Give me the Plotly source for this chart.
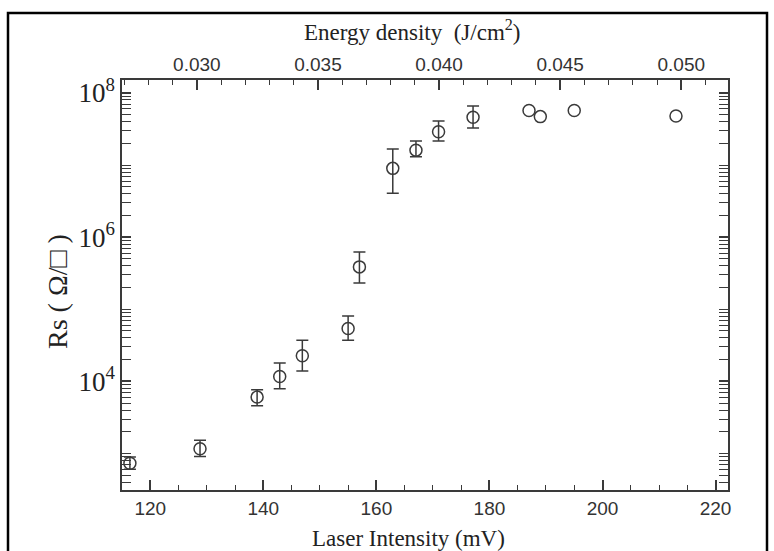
import plotly.graph_objects as go

# ---- data ----
laser_mv = [116.4, 128.8, 138.9, 142.9, 146.9, 155.0, 157.0, 162.9, 167.0, 171.0, 177.1, 187.0, 189.0, 195.0, 213.0]
rs = [733, 1160, 6050, 11700, 22700, 54000, 387000, 9.0e6, 1.61e7, 2.9e7, 4.6e7, 5.7e7, 4.7e7, 5.7e7, 4.8e7]
# error-bar ends (None = no visible error bar)
rs_upper = [890, 1520, 7670, 17950, 37100, 80700, 625000, 1.67e7, 2.15e7, 4.08e7, 6.6e7, None, None, None, None]
rs_lower = [605, 908, 4590, 7920, 13900, 37100, 231700, 4.05e6, 1.30e7, 2.15e7, 3.27e7, None, None, None, None]

x_ticks = [120, 140, 160, 180, 200, 220]
energy_ticks = [0.030, 0.035, 0.040, 0.045, 0.050]
energy_labels = ["0.030", "0.035", "0.040", "0.045", "0.050"]
y_tickvals = [1e4, 1e6, 1e8]
y_ticktext = ["10<sup>4</sup>", "10<sup>6</sup>", "10<sup>8</sup>"]

idx_err = [i for i, u in enumerate(rs_upper) if u is not None]
idx_noerr = [i for i, u in enumerate(rs_upper) if u is None]

AX = "#3a3a3a"
SERIF = "Liberation Serif, Times New Roman, serif"
NARROW = "Liberation Sans Narrow, Liberation Sans, Arial, sans-serif"

marker = dict(symbol="circle-open", size=12, color=AX, line=dict(width=1.5, color=AX))

fig = go.Figure()
fig.add_trace(go.Scatter(
    x=[laser_mv[i] for i in idx_err], y=[rs[i] for i in idx_err], mode="markers",
    marker=marker,
    error_y=dict(type="data", symmetric=False,
                 array=[rs_upper[i] - rs[i] for i in idx_err],
                 arrayminus=[rs[i] - rs_lower[i] for i in idx_err],
                 color=AX, thickness=1.5, width=6),
    showlegend=False, hoverinfo="x+y",
))
fig.add_trace(go.Scatter(
    x=[laser_mv[i] for i in idx_noerr], y=[rs[i] for i in idx_noerr], mode="markers",
    marker=marker, showlegend=False, hoverinfo="x+y",
))
# helper (invisible) trace to activate the top energy axis
fig.add_trace(go.Scatter(
    x=energy_ticks, y=[rs[0]] * len(energy_ticks), xaxis="x2", mode="markers",
    marker=dict(opacity=0), showlegend=False, hoverinfo="skip",
))

W, H = 774, 551
L, R, T, B = 122, 46, 80, 61
pw, ph = W - L - R, H - T - B

def px_x(p):
    return (p - L) / pw

def px_y(p):
    return (H - B - p) / ph

fig.update_layout(
    width=W, height=H,
    margin=dict(l=L, r=R, t=T, b=B, pad=0),
    paper_bgcolor="white", plot_bgcolor="white",
    xaxis=dict(
        range=[115.0, 222.2], tickmode="array", tickvals=x_ticks,
        ticks="inside", ticklen=10, tickwidth=1.5, tickcolor=AX,
        minor=dict(dtick=5, tick0=0, ticks="inside", ticklen=5, tickwidth=1.2, tickcolor=AX),
        showline=True, linecolor=AX, linewidth=1.5, mirror=False,
        showgrid=False, zeroline=False,
        tickfont=dict(family=NARROW, size=19, color="#333"),
    ),
    xaxis2=dict(
        overlaying="x", side="top", anchor="y",
        range=[0.02691, 0.05193], tickmode="array", tickvals=energy_ticks, ticktext=energy_labels,
        ticks="inside", ticklen=10, tickwidth=1.5, tickcolor=AX,
        minor=dict(dtick=0.001, tick0=0, ticks="inside", ticklen=5, tickwidth=1.2, tickcolor=AX),
        showline=True, linecolor=AX, linewidth=1.5,
        showgrid=False, zeroline=False,
        tickfont=dict(family=NARROW, size=19, color="#333"),
    ),
    yaxis=dict(
        type="log", range=[2.493, 8.18],
        tickmode="array", tickvals=y_tickvals, ticktext=y_ticktext,
        ticks="inside", ticklen=9, tickwidth=1.5, tickcolor=AX,
        minor=dict(dtick="D1", ticks="inside", ticklen=5, tickwidth=1.2, tickcolor=AX),
        showline=True, linecolor=AX, linewidth=1.5, mirror="allticks",
        showgrid=False, zeroline=False,
        tickfont=dict(family=SERIF, size=27, color="#222"),
    ),
    annotations=[
        dict(text="Laser Intensity (mV)", xref="paper", yref="paper",
             x=px_x(408), y=px_y(538), xanchor="center", yanchor="middle", showarrow=False,
             font=dict(family=SERIF, size=23, color="#222")),
        dict(text="Energy density  (J/cm<sup>2</sup>)", xref="paper", yref="paper",
             x=px_x(412), y=px_y(31), xanchor="center", yanchor="middle", showarrow=False,
             font=dict(family=SERIF, size=23, color="#222")),
        dict(text="Rs ( \u03a9/\u25a1 )", xref="paper", yref="paper", textangle=-90,
             x=px_x(57), y=px_y(292), xanchor="center", yanchor="middle", showarrow=False,
             font=dict(family=SERIF, size=28, color="#222")),
    ],
    shapes=[
        dict(type="rect", xref="paper", yref="paper",
             x0=px_x(8), x1=px_x(767), y0=px_y(565), y1=px_y(13),
             line=dict(color="black", width=2.5), fillcolor="rgba(0,0,0,0)", layer="above"),
    ],
)

fig.write_html("out.html")
